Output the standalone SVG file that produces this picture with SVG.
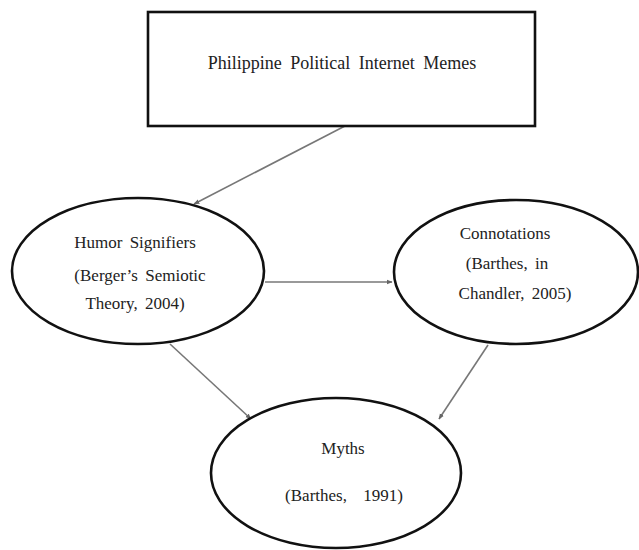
<svg xmlns="http://www.w3.org/2000/svg" width="639" height="550" viewBox="0 0 639 550">
<defs>
<style>
.node{fill:#fff;stroke:#111;stroke-width:2.6}
.lbl{font-family:"Liberation Serif","Times New Roman",serif;font-size:17px;fill:#222;text-anchor:middle;word-spacing:3px}
.edge{stroke:#777;stroke-width:1.6;fill:none;marker-end:url(#ah)}
</style>
<marker id="ah" viewBox="0 0 10 10" refX="9" refY="5" markerWidth="6" markerHeight="6" orient="auto" markerUnits="userSpaceOnUse">
<path d="M0,1 L10,5 L0,9 z" fill="#666"/>
</marker>
</defs>
<rect width="639" height="550" fill="#fff"/>
<g id="connectors">
<line class="edge" x1="345" y1="126" x2="194" y2="204"/>
<line class="edge" x1="265" y1="282" x2="392" y2="282"/>
<line class="edge" x1="170" y1="344" x2="251" y2="419"/>
<line class="edge" x1="488" y1="345" x2="439" y2="419"/>
</g>
<g id="memes">
<rect class="node" x="148" y="12" width="387" height="114" stroke-width="3"/>
<text class="lbl" x="342" y="69" style="font-size:18px;word-spacing:4px">Philippine Political Internet Memes</text>
</g>
<g id="humor">
<ellipse class="node" cx="138" cy="271" rx="126" ry="73"/>
<text class="lbl" x="135" y="248">Humor Signifiers</text>
<text class="lbl" x="140" y="281">(Berger’s Semiotic</text>
<text class="lbl" x="135" y="309">Theory, 2004)</text>
</g>
<g id="connotations">
<ellipse class="node" cx="516" cy="272" rx="122" ry="72"/>
<text class="lbl" x="505" y="239">Connotations</text>
<text class="lbl" x="507" y="269">(Barthes, in</text>
<text class="lbl" x="515" y="299">Chandler, 2005)</text>
</g>
<g id="myths">
<ellipse class="node" cx="336" cy="473" rx="125" ry="75"/>
<text class="lbl" x="343" y="454">Myths</text>
<text class="lbl" x="344" y="501" style="word-spacing:12px">(Barthes, 1991)</text>
</g>
</svg>
